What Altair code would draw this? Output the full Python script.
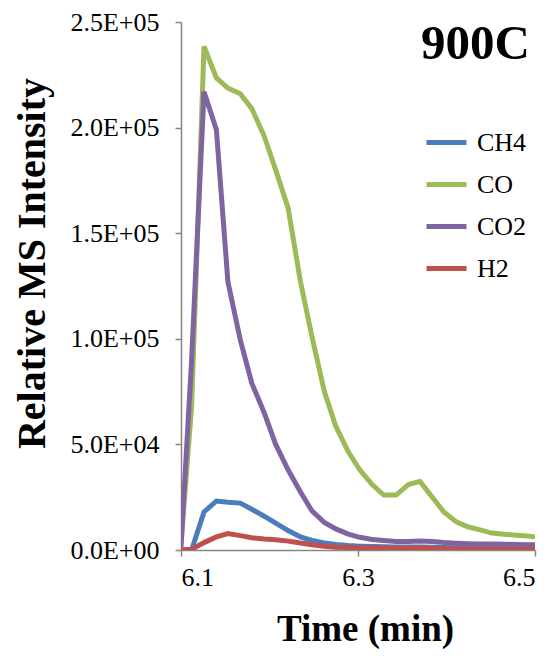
import altair as alt
import pandas as pd

time = [6.100, 6.112, 6.126, 6.140, 6.153, 6.167, 6.180, 6.194, 6.207, 6.221,
        6.235, 6.248, 6.262, 6.275, 6.289, 6.302, 6.316, 6.329, 6.343, 6.357,
        6.370, 6.384, 6.397, 6.411, 6.424, 6.438, 6.451, 6.465, 6.479, 6.492, 6.500]

ch4 = [0, 0, 18000, 23200, 22600, 22200, 19300, 16000, 12700, 9200,
       6200, 4500, 3300, 2600, 2100, 1800, 1600, 1500, 1400, 1400,
       1400, 1300, 1200, 1100, 1000, 1000, 900, 900, 900, 800, 800]

co = [3000, 68000, 238500, 223500, 218700, 216000, 209000, 196000, 180000, 162000,
      127000, 101000, 75000, 58500, 46500, 38000, 31000, 26000, 26000, 31000,
      32500, 25000, 18000, 13300, 11000, 9500, 8000, 7500, 7000, 6600, 6200]

co2 = [1500, 90000, 217000, 199000, 127000, 99500, 79000, 65000, 50000, 38000,
       27500, 18500, 13000, 10000, 7500, 6000, 5000, 4500, 4000, 4000,
       4300, 4000, 3500, 3200, 3000, 2900, 2800, 2700, 2600, 2500, 2500]

h2 = [0, 300, 3500, 6200, 7800, 6800, 5800, 5200, 4800, 4200,
      3300, 2500, 1800, 1300, 1200, 1000, 900, 900, 800, 1000,
      1100, 800, 600, 500, 500, 400, 400, 400, 400, 400, 400]

series = {"CH4": ch4, "CO": co, "CO2": co2, "H2": h2}
colors = ["#4A7EBB", "#9BBB59", "#8064A2", "#C0504D"]
chart_label = "900C"

rows = []
for name, vals in series.items():
    for t, v in zip(time, vals):
        rows.append({"time": t, "value": v, "gas": name})
df = pd.DataFrame(rows)

FONT = "Liberation Serif"

ylabel = ("datum.value == 0 ? '0.0E+00' : "
          "format(datum.value / pow(10, floor(log(datum.value)/LN10 + 1e-9)), '.1f') + "
          "'E+0' + floor(log(datum.value)/LN10 + 1e-9)")

xscale = alt.Scale(domain=[6.1, 6.5], nice=False, zero=False)
yscale = alt.Scale(domain=[0, 250000], nice=False)

lines = alt.Chart(df).mark_line(strokeWidth=5, clip=True).encode(
    x=alt.X("time:Q", scale=xscale,
            axis=alt.Axis(values=[6.1, 6.3, 6.5], format=".1f", title="Time (min)",
                          grid=False, tickSize=6, labelPadding=8,
                          titleFontSize=37,
                          titleX=184, titleY=61, titleBaseline="top")),
    y=alt.Y("value:Q", scale=yscale,
            axis=alt.Axis(values=[0, 50000, 100000, 150000, 200000, 250000],
                          labelExpr=ylabel, title="Relative MS Intensity",
                          grid=False, tickSize=6, labelPadding=16,
                          titleFontSize=40,
                          titleX=-129, titleY=241)),
    color=alt.Color("gas:N",
                    scale=alt.Scale(domain=list(series.keys()), range=colors),
                    legend=alt.Legend(title=None, orient="none", legendX=243, legendY=98,
                                      symbolType="stroke", symbolSize=1600,
                                      symbolStrokeWidth=5, labelOffset=8,
                                      labelFontSize=26, labelFont=FONT,
                                      labelColor="black", rowPadding=6)),
)

label = alt.Chart(pd.DataFrame({"t": [chart_label]})).mark_text(
    font=FONT, fontSize=49, fontWeight="bold", color="black",
    align="right", baseline="top", dx=-5, dy=-2,
).encode(
    x=alt.datum(6.5, scale=xscale),
    y=alt.datum(250000, scale=yscale),
    text="t:N",
)

chart = alt.layer(lines, label).properties(
    width=354, height=528,
    autosize=alt.AutoSizeParams(type="none"),
    padding={"left": 181, "top": 22, "right": 20, "bottom": 106},
).configure_axis(
    domainColor="#868686", domainWidth=1.5, tickColor="#868686", tickWidth=1.5,
    labelFont=FONT, labelFontSize=26, labelColor="black",
    titleFont=FONT, titleFontWeight="bold", titleColor="black",
).configure_view(stroke=None)

chart.save("out.html", embed_options={"renderer": "svg", "actions": False})
